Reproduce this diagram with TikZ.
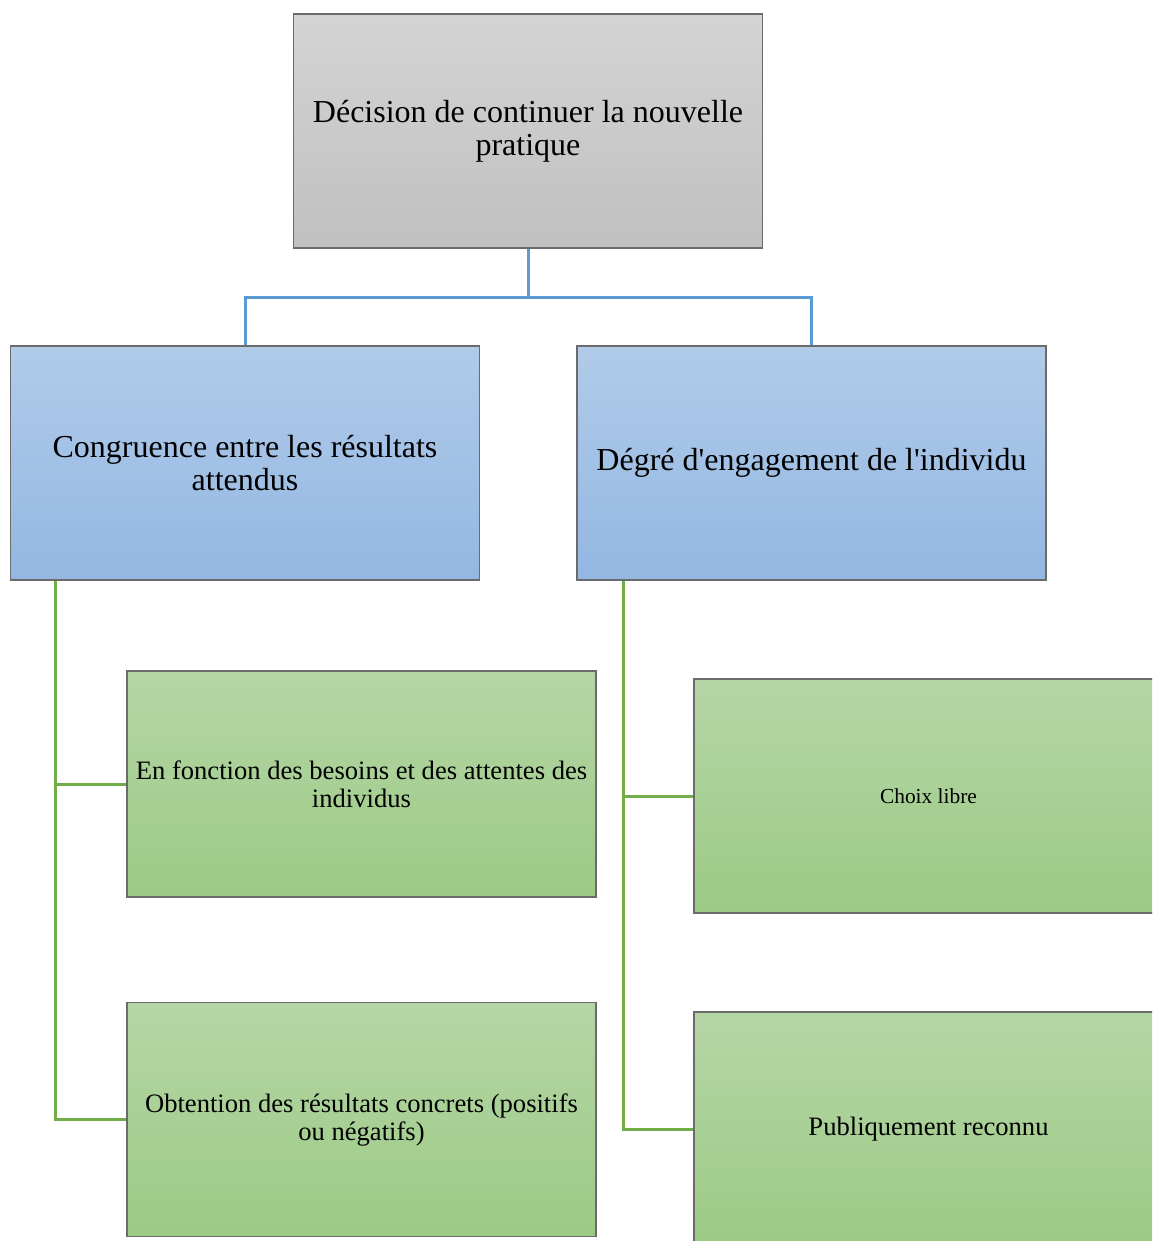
\documentclass[tikz,border=0pt]{standalone}
\usepackage{fontspec}
\setmainfont{Liberation Serif}
\usepackage{tikz}
\usetikzlibrary{positioning, calc}

\definecolor{boxedge}{HTML}{6B6B6B}
\definecolor{greytop}{HTML}{D4D4D4}
\definecolor{greybot}{HTML}{C0C0C0}
\definecolor{bluetop}{HTML}{B1CBE9}
\definecolor{bluebot}{HTML}{93B7E2}
\definecolor{greentop}{HTML}{B5D6A7}
\definecolor{greenbot}{HTML}{9CCA84}
\definecolor{blueline}{HTML}{5B9BD5}
\definecolor{greenline}{HTML}{70AD47}

\tikzset{
    box/.style = {shape = rectangle, draw = boxedge, line width = 0.6pt, align = center,
                  minimum width = 234.5pt, minimum height = 117pt, inner sep = 4pt},
    headbox/.style = {box, top color = greytop, bottom color = greybot, font = \fontsize{16}{16.5}\selectfont},
    groupbox/.style = {box, top color = bluetop, bottom color = bluebot, font = \fontsize{16}{16.5}\selectfont},
    leafbox/.style = {box, top color = greentop, bottom color = greenbot, font = \fontsize{13.3}{14}\selectfont},
    bluelink/.style = {draw = blueline, line width = 1.5pt},
    greenlink/.style = {draw = greenline, line width = 1.5pt}
}

\begin{document}
\begin{tikzpicture}[x = 0.5pt, y = -0.5pt]
    \clip (0, 0) rectangle (1152, 1241);
    \fill [white] (0, 0) rectangle (1152, 1241);

    \node [headbox] (decision) at (528, 131) {Décision de continuer la nouvelle\\pratique};

    \node [groupbox] (congruence) at (245, 463) {Congruence entre les résultats\\attendus};
    \node [groupbox] (engagement) at (811.5, 463) {Dégré d\textquotesingle engagement de l\textquotesingle individu};

    \node [leafbox, minimum height = 113pt] (besoins) at (361.5, 784) {En fonction des besoins et des attentes des\\individus};
    \node [leafbox] (obtention) at (361.5, 1119.5) {Obtention des résultats concrets (positifs\\ou négatifs)};
    \node [leafbox, font = \fontsize{10.7}{12}\selectfont] (choix) at (928.5, 796) {Choix libre};
    \node [leafbox] (public) at (928.5, 1129) {Publiquement reconnu};

    \coordinate (split) at ($(decision.south) + (0, 49)$);
    \coordinate (lefttrunk) at ($(congruence.south west) + (46, 0)$);
    \coordinate (righttrunk) at ($(engagement.south west) + (47, 0)$);

    \draw [bluelink] (decision.south) -- (split) -| (congruence.north);
    \draw [bluelink] (split) -| (engagement.north);

    \draw [greenlink] (lefttrunk) |- (besoins.west);
    \draw [greenlink] (lefttrunk) |- (obtention.west);
    \draw [greenlink] (righttrunk) |- (choix.west);
    \draw [greenlink] (righttrunk) |- (public.west);
\end{tikzpicture}
\end{document}
